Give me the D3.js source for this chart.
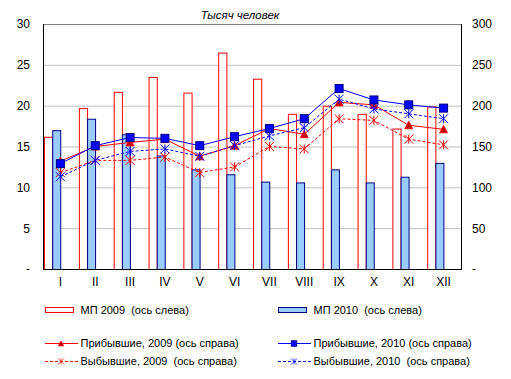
<!DOCTYPE html>
<html>
<head>
<meta charset="utf-8">
<script src="https://cdn.jsdelivr.net/npm/d3@7"></script>
<style>
  body { margin: 0; background: #fff; }
  svg text { font-family: "Liberation Sans", Arial, sans-serif; fill: #000; white-space: pre; }
</style>
</head>
<body>
<div id="chart"></div>
<script>
// months
var months = ["I", "II", "III", "IV", "V", "VI", "VII", "VIII", "IX", "X", "XI", "XII"]

// bars, left axis (thousand people)
var mp2009 = [16.2, 19.7, 21.7, 23.5, 21.6, 26.5, 23.3, 19.0, 20.0, 19.0, 17.2, 19.9]
var mp2010 = [17.0, 18.4, 16.5, 13.9, 12.2, 11.6, 10.7, 10.6, 12.2, 10.6, 11.3, 13.0]

// lines, right axis
var arr2009 = [132, 150, 155, 159, 138, 151, 172, 165, 204, 201, 176, 171]
var arr2010 = [129, 151, 161, 160, 151, 162, 172, 184, 221, 207, 201, 197]
var dep2009 = [118, 133, 133, 137, 118, 125, 150, 147, 184, 182, 159, 152]
var dep2010 = [113, 133, 144, 147, 138, 151, 163, 173, 208, 196, 190, 184]

var leftTicks = [0, 5, 10, 15, 20, 25, 30]
var rightTicks = [0, 50, 100, 150, 200, 250, 300]

var width = 511
var height = 379
var plot = { left: 43, right: 461, top: 24, bottom: 269 }

var svg = d3.select("#chart")
  .append("svg")
  .attr("width", width)
  .attr("height", height)

var x = d3.scaleBand()
  .domain(months)
  .range([plot.left, plot.right])
  .padding(0)

var yL = d3.scaleLinear().domain([0, 30]).range([plot.bottom, plot.top])
var yR = d3.scaleLinear().domain([0, 300]).range([plot.bottom, plot.top])

// gridlines
svg.append("g")
  .selectAll("line")
  .data(leftTicks.slice(1))
  .enter()
  .append("line")
  .attr("x1", plot.left)
  .attr("x2", plot.right)
  .attr("y1", function (d) { return yL(d) + 0.5 })
  .attr("y2", function (d) { return yL(d) + 0.5 })
  .attr("stroke", function (d) { return d == 30 ? "#808080" : "#c0c0c0" })
  .attr("stroke-width", 1)

var bw = x.bandwidth()

// MP 2009 bars
svg.append("g")
  .selectAll("rect")
  .data(mp2009)
  .enter()
  .append("rect")
  .attr("x", function (d, i) { return x(months[i]) + bw * 0.03 + 0.5 })
  .attr("y", function (d) { return yL(d) + 0.5 })
  .attr("width", bw * 0.235)
  .attr("height", function (d) { return yL(0) - yL(d) })
  .attr("fill", "#fff")
  .attr("stroke", "#ff0000")
  .attr("stroke-width", 1)

// MP 2010 bars
svg.append("g")
  .selectAll("rect")
  .data(mp2010)
  .enter()
  .append("rect")
  .attr("x", function (d, i) { return x(months[i]) + bw * 0.265 + 0.5 })
  .attr("y", function (d) { return yL(d) + 0.5 })
  .attr("width", bw * 0.23)
  .attr("height", function (d) { return yL(0) - yL(d) })
  .attr("fill", "#99ccff")
  .attr("stroke", "#000080")
  .attr("stroke-width", 1)

// axes lines
svg.append("line")
  .attr("x1", plot.left + 0.5).attr("x2", plot.left + 0.5)
  .attr("y1", plot.top).attr("y2", plot.bottom + 1)
  .attr("stroke", "#000")
svg.append("line")
  .attr("x1", plot.right + 0.5).attr("x2", plot.right + 0.5)
  .attr("y1", plot.top).attr("y2", plot.bottom + 1)
  .attr("stroke", "#000")
svg.append("line")
  .attr("x1", plot.left).attr("x2", plot.right + 1)
  .attr("y1", plot.bottom + 0.5).attr("y2", plot.bottom + 0.5)
  .attr("stroke", "#000")

var cx = function (d, i) { return x(months[i]) + bw / 2 }

var line = d3.line()
  .x(function (d, i) { return x(months[i]) + bw / 2 })
  .y(function (d) { return yR(d) })

function drawSeries(data, color, dashed, marker) {
  var g = svg.append("g")
  g.append("path")
    .datum(data)
    .attr("d", line)
    .attr("fill", "none")
    .attr("stroke", color)
    .attr("stroke-width", 1)
    .attr("stroke-dasharray", dashed ? "3,2" : null)
  data.forEach(function (v, i) {
    marker(g, cx(v, i), yR(v))
  })
}

function triangle(g, px, py) {
  g.append("path")
    .attr("d", "M" + px + "," + (py - 4) + "L" + (px + 4) + "," + (py + 3.5) + "L" + (px - 4) + "," + (py + 3.5) + "Z")
    .attr("fill", "#cc0000")
    .attr("stroke", "#ff0000")
    .attr("stroke-width", 0.8)
}

function square(g, px, py) {
  g.append("rect")
    .attr("x", px - 4)
    .attr("y", py - 4)
    .attr("width", 8)
    .attr("height", 8)
    .attr("fill", "#0000ff")
    .attr("stroke", "#000080")
    .attr("stroke-width", 1)
}

function asterisk(color) {
  return function (g, px, py) {
    var r = 4.5
    g.append("path")
      .attr("d", "M" + (px - r) + "," + (py - r) + "L" + (px + r) + "," + (py + r) +
        "M" + (px + r) + "," + (py - r) + "L" + (px - r) + "," + (py + r) +
        "M" + px + "," + (py - r) + "L" + px + "," + (py + r))
      .attr("stroke", color)
      .attr("stroke-width", 1)
      .attr("fill", "none")
  }
}

drawSeries(arr2009, "#ff0000", false, triangle)
drawSeries(dep2009, "#ff0000", true, asterisk("#ff0000"))
drawSeries(arr2010, "#0000ff", false, square)
drawSeries(dep2010, "#0000ff", true, asterisk("#0000ff"))

// axis labels
var leftAxis = d3.axisLeft(yL)
  .tickValues(leftTicks)
  .tickSize(0)
  .tickPadding(13)
  .tickFormat(function (d) { return d == 0 ? "-" : d })
var gl = svg.append("g").attr("transform", "translate(" + plot.left + ",0)").call(leftAxis)

var rightAxis = d3.axisRight(yR)
  .tickValues(rightTicks)
  .tickSize(0)
  .tickPadding(11)
  .tickFormat(function (d) { return d == 0 ? "-" : d })
var gr = svg.append("g").attr("transform", "translate(" + plot.right + ",0)").call(rightAxis)

var bottomAxis = d3.axisBottom(x).tickSize(0).tickPadding(8)
var gb = svg.append("g").attr("transform", "translate(0," + plot.bottom + ")").call(bottomAxis)

;[gl, gr, gb].forEach(function (g) {
  g.select(".domain").remove()
  g.selectAll("text")
    .style("font-family", "'Liberation Sans', Arial, sans-serif")
    .style("font-size", "12px")
    .attr("fill", "#000")
})

// title
svg.append("text")
  .attr("x", 240)
  .attr("y", 19)
  .attr("text-anchor", "middle")
  .style("font-size", "11.5px")
  .style("font-style", "italic")
  .text("Тысяч человек")

// legend
var legendCols = [45, 278]
var legendItems = [
  { col: 0, y: 310, type: "rect", fill: "#fff", stroke: "#ff0000", label: "МП 2009  (ось слева)" },
  { col: 1, y: 310, type: "rect", fill: "#99ccff", stroke: "#000080", label: "МП 2010  (ось слева)" },
  { col: 0, y: 343, type: "line", color: "#ff0000", dashed: false, marker: triangle, label: "Прибывшие, 2009 (ось справа)" },
  { col: 1, y: 343, type: "line", color: "#0000ff", dashed: false, marker: square, label: "Прибывшие, 2010 (ось справа)" },
  { col: 0, y: 361, type: "line", color: "#ff0000", dashed: true, marker: asterisk("#ff0000"), label: "Выбывшие, 2009  (ось справа)" },
  { col: 1, y: 361, type: "line", color: "#0000ff", dashed: true, marker: asterisk("#0000ff"), label: "Выбывшие, 2010  (ось справа)" }
]

var lg = svg.append("g")
legendItems.forEach(function (it) {
  var lx = legendCols[it.col]
  if (it.type == "rect") {
    lg.append("rect")
      .attr("x", lx + 0.5)
      .attr("y", it.y - 2.5)
      .attr("width", 28)
      .attr("height", 5)
      .attr("fill", it.fill)
      .attr("stroke", it.stroke)
  } else {
    lg.append("line")
      .attr("x1", lx).attr("x2", lx + 33)
      .attr("y1", it.y + 0.5).attr("y2", it.y + 0.5)
      .attr("stroke", it.color)
      .attr("stroke-dasharray", it.dashed ? "3,2" : null)
    var mg = lg.append("g").attr("transform", "translate(" + (lx + 16) + "," + (it.y + 0.5) + ") scale(0.7) translate(" + -(lx + 16) + "," + -(it.y + 0.5) + ")")
    it.marker(mg, lx + 16, it.y + 0.5)
  }
  lg.append("text")
    .attr("x", lx + 35.5)
    .attr("y", it.y + 4)
    .style("font-size", "11px")
    .text(it.label)
})
</script>
</body>
</html>
